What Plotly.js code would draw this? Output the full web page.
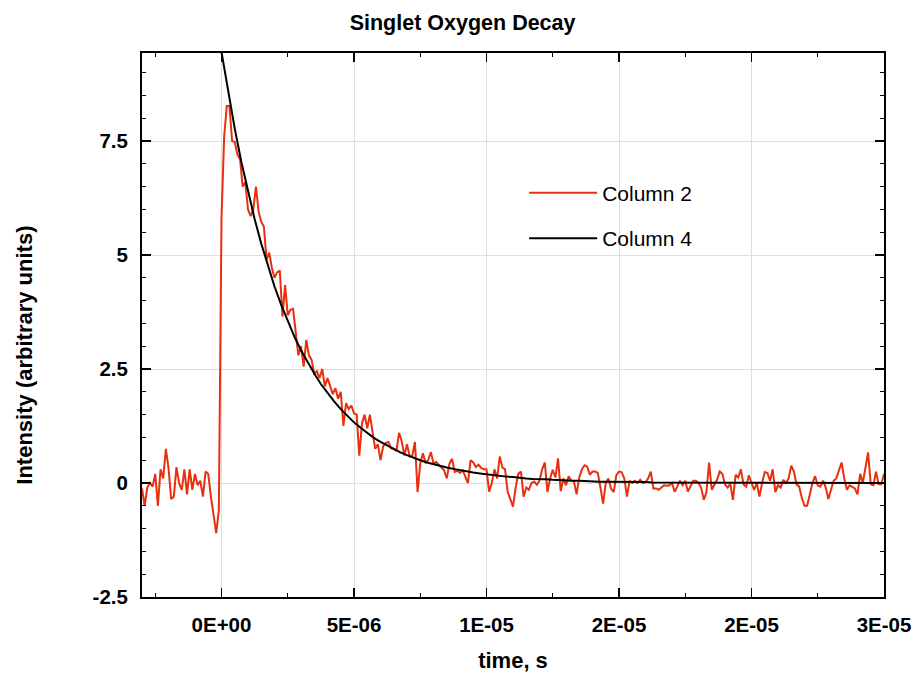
<!DOCTYPE html>
<html>
<head>
<meta charset="utf-8">
<script src="https://cdn.plot.ly/plotly-3.0.1.min.js"></script>
<style>html,body{margin:0;padding:0;background:#fff;}</style>
</head>
<body>
<div id="chart" style="width:916px;height:673px;"></div>
<script>
// Column 2: measured signal, sampled every 0.1 µs starting at -3.0 µs
const col2Start = -3.0e-6;
const col2Step = 1.0e-7;
const column2 = [
  -0.12,-0.5,-0.1,0.0,-0.08,0.2,-0.5,0.3,0.1,0.75,
  0.33,-0.35,-0.3,0.35,0.0,-0.15,0.3,-0.25,0.3,-0.15,
  0.2,-0.05,0.05,-0.3,0.25,0.2,-0.3,-0.65,-1.1,-0.6,
  5.8,
  7.6,8.27,8.27,7.5,7.48,7.2,7.1,6.5,6.6,6.0,
  5.85,6.0,6.5,5.95,5.73,5.62,4.9,5.05,4.72,4.5,
  4.62,4.66,3.65,4.34,3.68,3.8,3.82,3.3,2.8,3.0,
  2.55,3.14,2.8,2.7,2.4,2.45,2.3,2.5,2.12,2.3,
  2.1,1.95,2.08,1.85,2.0,1.25,1.75,1.62,1.7,1.53,
  1.5,0.6,1.3,1.5,1.2,1.5,1.12,0.75,0.85,0.5,
  0.8,0.88,0.9,0.76,0.75,0.7,1.1,0.92,0.6,0.85,
  0.58,0.6,0.9,-0.2,0.43,0.65,0.45,0.5,0.68,0.43,
  0.46,0.4,0.35,0.28,0.1,0.42,0.53,0.24,0.27,0.22,
  0.28,0.15,0.0,0.5,0.45,0.35,0.4,0.33,0.3,0.3,
  -0.19,0.0,0.3,0.1,0.58,0.34,0.3,-0.2,-0.34,-0.52,
  -0.1,0.2,0.25,-0.3,-0.1,-0.15,0.0,0.03,-0.04,0.05,
  0.3,0.45,-0.2,0.1,0.29,0.12,0.54,-0.18,0.1,-0.05,
  0.15,0.05,0.03,-0.25,0.12,0.3,0.39,0.36,0.18,0.25,
  0.25,0.22,-0.1,-0.45,0.0,0.1,-0.12,-0.2,0.17,0.25,
  0.24,0.1,-0.3,0.05,0.0,0.05,0.0,0.07,0.0,0.02,
  0.1,0.25,-0.12,-0.12,-0.15,-0.1,-0.05,-0.06,-0.05,0.0,
  -0.19,-0.08,0.05,-0.05,0.05,-0.19,-0.05,0.05,0.05,0.0,
  -0.1,-0.37,-0.2,0.45,-0.15,-0.02,0.07,0.25,0.2,-0.03,
  -0.1,-0.02,-0.37,0.18,0.12,0.3,-0.03,-0.08,0.17,0.0,
  -0.15,0.0,-0.3,0.0,0.24,0.22,0.05,0.3,-0.2,-0.05,
  -0.1,0.07,0.0,0.1,0.38,0.25,-0.03,-0.08,-0.33,-0.5,
  -0.5,-0.25,0.0,0.15,-0.05,-0.08,0.05,-0.1,-0.35,-0.15,
  0.05,0.1,0.3,0.45,0.1,-0.15,-0.05,-0.08,-0.12,-0.25,
  0.2,0.0,0.3,0.67,-0.03,-0.05,0.25,-0.03,-0.03,0.2,-0.08
];

// Column 4: fitted decay, read every 0.25 µs starting at 0
const col4Start = 0;
const col4Step = 2.5e-7;
const column4 = [
  9.45,8.57,7.77,7.04,6.38,5.79,5.25,4.76,4.31,3.91,
  3.55,3.21,2.91,2.64,2.40,2.17,1.97,1.79,1.62,1.47,
  1.33,1.21,1.09,0.99,0.90,0.82,0.74,0.67,0.61,0.55,
  0.50,0.45,0.41,0.37,0.34,0.31,0.28,0.25,0.23,0.21,
  0.19,0.17,0.15,0.14,0.13,0.11,0.10,0.09,0.09,0.08,
  0.07,0.06,0.06,0.05,0.05,0.04,0.04,0.03,0.03,0.03,
  0.03,0.02,0.02,0.02,0.02,0.01,0.01,0.01,0.01,0.01,
  0.01,0.01,0.01,0.01,0.00,0.00,0.00,0.00,0.00,0.00,
  0.00,0.00,0.00,0.00,0.00,0.00,0.00,0.00,0.00,0.00,
  0.00,0.00,0.00,0.00,0.00,0.00,0.00,0.00,0.00,0.00,
  0.00
];

const xTickVals = [0, 5e-6, 1e-5, 1.5e-5, 2e-5, 2.5e-5];
const xTickText = ['0E+00', '5E-06', '1E-05', '2E-05', '2E-05', '3E-05'];
const yTickVals = [-2.5, 0, 2.5, 5, 7.5];
const yTickText = ['-2.5', '0', '2.5', '5', '7.5'];

const FONT = 'Liberation Sans, Arial, Helvetica, sans-serif';

const traces = [
  {
    type: 'scatter', mode: 'lines', name: 'Column 2',
    x0: col2Start, dx: col2Step, y: column2,
    line: {color: '#e8300e', width: 2},
    legendgroup: 'a'
  },
  {
    type: 'scatter', mode: 'lines', name: 'Column 4',
    x0: col4Start, dx: col4Step, y: column4,
    line: {color: '#000000', width: 2},
    legendgroup: 'b'
  }
];

const axisCommon = {
  showline: true, linecolor: '#000', linewidth: 2, mirror: 'ticks',
  ticks: 'inside', ticklen: 9, tickwidth: 1.5, tickcolor: '#000',
  showgrid: true, gridcolor: '#dedede', gridwidth: 1,
  zeroline: false,
  tickfont: {family: FONT, size: 20.5, color: '#000', weight: 'bold'},
  ticklabelstandoff: 8
};

const layout = {
  width: 916, height: 673,
  paper_bgcolor: '#fff', plot_bgcolor: '#fff',
  margin: {l: 142, r: 32, t: 53, b: 76},
  font: {family: FONT, color: '#000'},
  title: {
    text: 'Singlet Oxygen Decay',
    font: {family: FONT, size: 21.5, weight: 'bold', color: '#000'},
    x: 0.505, xref: 'container', xanchor: 'center',
    y: 0.967, yref: 'container', yanchor: 'middle'
  },
  xaxis: Object.assign({}, axisCommon, {
    range: [-3e-6, 2.5e-5],
    tickmode: 'array', tickvals: xTickVals, ticktext: xTickText,
    minor: {tickmode: 'array', tickvals: [-2.5e-6, 2.5e-6, 7.5e-6, 1.25e-5, 1.75e-5, 2.25e-5],
            ticks: 'inside', ticklen: 4, tickwidth: 1.2, tickcolor: '#000', showgrid: false},
    title: {text: 'time, s', font: {family: FONT, size: 22, weight: 'bold', color: '#000'}, standoff: 18}
  }),
  yaxis: Object.assign({}, axisCommon, {
    range: [-2.5, 9.43],
    tickmode: 'array', tickvals: yTickVals, ticktext: yTickText,
    minor: {dtick: 0.5, tick0: 0, ticks: 'inside', ticklen: 4, tickwidth: 1.2, tickcolor: '#000', showgrid: false}
  }),
  annotations: [{
    text: 'Intensity (arbitrary units)',
    xref: 'paper', yref: 'paper',
    x: -0.158, y: 0.445, xanchor: 'center', yanchor: 'middle',
    textangle: -90, showarrow: false,
    font: {family: FONT, size: 22, weight: 'bold', color: '#000'}
  }],
  showlegend: true,
  legend: {
    x: 0.515, xanchor: 'left', y: 0.78, yanchor: 'top',
    bgcolor: 'rgba(0,0,0,0)', borderwidth: 0,
    font: {family: FONT, size: 21, color: '#000'},
    itemwidth: 68, tracegroupgap: 15, traceorder: 'grouped'
  }
};

Plotly.newPlot('chart', traces, layout, {displayModeBar: false, staticPlot: true});
</script>
</body>
</html>
